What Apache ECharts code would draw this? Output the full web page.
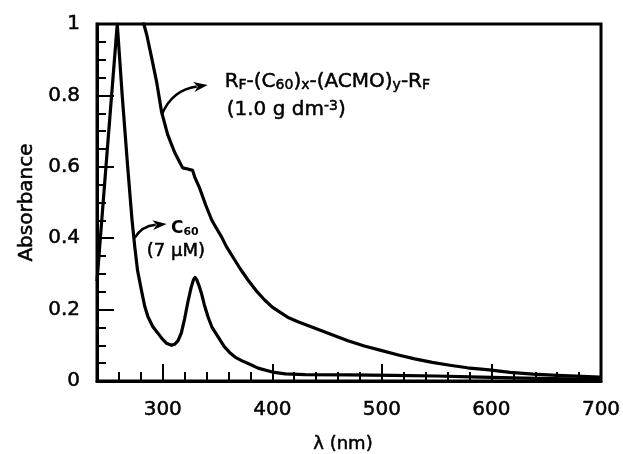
<!DOCTYPE html>
<html>
<head>
<meta charset="utf-8">
<script src="https://cdn.jsdelivr.net/npm/echarts@6/dist/echarts.min.js"></script>
<style>html,body{margin:0;padding:0;background:#fff}#c{width:623px;height:454px}</style>
</head>
<body>
<div id="c"></div>
<script>
// C60 (7 uM) spectrum
const c60Nm  = [240, 249.7, 258.5, 263, 268, 272, 274.5, 277, 280.5, 283.5, 286.5, 291, 295.6, 299.5, 303.3, 308, 311, 314, 317, 320, 323, 326, 328, 329.5, 331, 333, 335.3, 338, 341.3, 345, 350.4, 356, 361, 366, 372, 378, 387, 400, 412, 430, 470, 510, 550, 590, 630, 670, 700];
const c60Abs = [0.28, 0.66, 1.0, 0.80, 0.60, 0.45, 0.375, 0.31, 0.255, 0.21, 0.18, 0.152, 0.134, 0.118, 0.106, 0.10, 0.103, 0.113, 0.135, 0.175, 0.222, 0.263, 0.283, 0.29, 0.284, 0.268, 0.246, 0.213, 0.18, 0.15, 0.124, 0.097, 0.08, 0.067, 0.057, 0.049, 0.036, 0.025, 0.02, 0.018, 0.017, 0.016, 0.014, 0.011, 0.008, 0.006, 0.005];
// RF-(C60)x-(ACMO)y-RF (1.0 g dm-3) spectrum
const polyNm  = [281, 282.7, 285.4, 289.9, 294.4, 299, 304.5, 310.9, 315.5, 318.2, 322.8, 327.3, 329.2, 333.7, 339.2, 344.7, 349, 353.8, 358, 365.7, 371, 377.8, 385, 393, 400, 408.3, 415, 423.4, 439, 454, 469, 484, 500, 515, 530, 546, 562, 578, 598, 617, 638, 660, 683, 699];
const polyAbs = [1.02, 1.0, 0.97, 0.905, 0.838, 0.753, 0.69, 0.64, 0.613, 0.597, 0.594, 0.59, 0.571, 0.54, 0.493, 0.451, 0.428, 0.403, 0.377, 0.339, 0.313, 0.283, 0.254, 0.227, 0.207, 0.19, 0.177, 0.166, 0.148, 0.13, 0.113, 0.098, 0.085, 0.073, 0.062, 0.052, 0.044, 0.037, 0.031, 0.024, 0.019, 0.016, 0.013, 0.011];
// tick labels
const xLabels = [300, 400, 500, 600, 700];
const xMajorTicks = [300, 400, 500, 600];
const xMinorTicks = [260, 280, 320, 340, 360, 380, 420, 440, 460, 480, 520, 540, 560, 580, 620, 640, 660, 680];

const FONT = 'DejaVu Sans';
const HEAVY = {textBorderColor: '#000', textBorderWidth: 0.5};
const chart = echarts.init(document.getElementById('c'), null, {renderer: 'canvas'});
const pairs = (xs, ys) => xs.map((x, i) => [x, ys[i]]);

chart.setOption({
  animation: false,
  backgroundColor: '#fff',
  grid: {left: 97, top: 24, width: 504, height: 357, outerBoundsMode: 'none', containLabel: false, show: true, borderColor: '#000', borderWidth: 3, backgroundColor: 'transparent'},
  xAxis: [{
    type: 'value', min: 240, max: 700, position: 'bottom',
    axisLine: {show: true, onZero: false, lineStyle: {color: '#000', width: 3}},
    axisTick: {show: true, inside: true, length: 9, lineStyle: {color: '#000', width: 2}, customValues: xMinorTicks},
    axisLabel: Object.assign({customValues: xLabels, color: '#000', fontSize: 20, fontFamily: FONT, margin: 19}, HEAVY),
    splitLine: {show: false},
    name: 'λ (nm)', nameLocation: 'middle', nameGap: 54,
    nameTextStyle: Object.assign({color: '#000', fontSize: 18, fontFamily: FONT, padding: [0, 12, 0, 0]}, HEAVY)
  }, {
    type: 'value', min: 240, max: 700, position: 'bottom',
    axisLine: {show: false},
    axisTick: {show: true, inside: true, length: 17, lineStyle: {color: '#000', width: 2}, customValues: xMajorTicks},
    axisLabel: {show: false},
    splitLine: {show: false}
  }],
  yAxis: {
    type: 'value', min: 0, max: 1, interval: 0.2,
    axisLine: {show: true, onZero: false, lineStyle: {color: '#000', width: 3}},
    axisTick: {show: true, inside: true, length: 17, lineStyle: {color: '#000', width: 2}},
    minorTick: {show: true, splitNumber: 4, length: 9, lineStyle: {color: '#000', width: 2}},
    axisLabel: Object.assign({color: '#000', fontSize: 20, fontFamily: FONT, margin: 17}, HEAVY),
    splitLine: {show: false},
    name: 'Absorbance', nameLocation: 'middle', nameRotate: 90, nameGap: 58,
    nameTextStyle: Object.assign({color: '#000', fontSize: 20, fontFamily: FONT}, HEAVY)
  },
  series: [{
    type: 'line', name: 'C60', data: pairs(c60Nm, c60Abs), showSymbol: false, clip: true,
    lineStyle: {color: '#000', width: 3.2, join: 'round'}
  }, {
    type: 'line', name: 'RF-(C60)x-(ACMO)y-RF', data: pairs(polyNm, polyAbs), showSymbol: false, clip: true,
    lineStyle: {color: '#000', width: 3.2, join: 'round'}
  }]
});

// annotations placed in data coordinates
const px = (p) => chart.convertToPixel({gridIndex: 0}, p);
function arrow(p0, c, p2) {
  const a = px(p0), b = px(c), t = px(p2);
  const dx = t[0] - b[0], dy = t[1] - b[1], L = Math.hypot(dx, dy);
  const ux = dx / L, uy = dy / L, len = 14, hw = 5;
  const bx = t[0] - ux * len, by = t[1] - uy * len;
  return [{
    type: 'bezierCurve', silent: true,
    shape: {x1: a[0], y1: a[1], cpx1: b[0], cpy1: b[1], x2: bx + ux * 3, y2: by + uy * 3},
    style: {stroke: '#000', lineWidth: 2.5, fill: null}
  }, {
    type: 'polygon', silent: true,
    shape: {points: [[t[0], t[1]], [bx - uy * hw, by + ux * hw], [bx + ux * 4, by + uy * 4], [bx + uy * hw, by - ux * hw]]},
    style: {fill: '#000'}
  }];
}
const SK = {stroke: '#000', lineWidth: 0.5};
const rich = {
  n: Object.assign({fontSize: 20, fontFamily: FONT, lineHeight: 22, fill: '#000'}, SK),
  s: Object.assign({fontSize: 14, fontFamily: FONT, lineHeight: 10, verticalAlign: 'bottom', fill: '#000'}, SK),
  p: Object.assign({fontSize: 14, fontFamily: FONT, lineHeight: 10, verticalAlign: 'top', fill: '#000'}, SK),
  b: {fontSize: 17, fontFamily: FONT, fontWeight: 'bold', lineHeight: 18, fill: '#000'},
  bs: {fontSize: 11, fontFamily: FONT, fontWeight: 'bold', lineHeight: 8, verticalAlign: 'bottom', fill: '#000'},
  m: Object.assign({fontSize: 18, fontFamily: FONT, lineHeight: 20, fill: '#000'}, SK)
};
function txt(pos, text) {
  const p = px(pos);
  return {type: 'text', silent: true, style: {x: p[0], y: p[1], text: text, rich: rich, align: 'left', verticalAlign: 'middle', fill: '#000'}};
}
const g = [].concat(
  arrow([299.05, 0.745], [308.2, 0.815], [341.0, 0.829]),
  arrow([274.4, 0.4006], [280.8, 0.434], [303.6, 0.44]),
  [
    txt([356.5, 0.839], '{n|R}{s|F}{n|-(C}{s|60}{n|)}{s|x}{n|-(ACMO)}{s|y}{n|-R}{s|F}'),
    txt([358.4, 0.759], '{n|(1.0 g dm}{p|-3}{n|)}'),
    txt([307.5, 0.426], '{b|C}{bs|60}'),
    txt([285.4, 0.364], '{m|(7 μM)}')
  ]
);
chart.setOption({graphic: g});
</script>
</body>
</html>
